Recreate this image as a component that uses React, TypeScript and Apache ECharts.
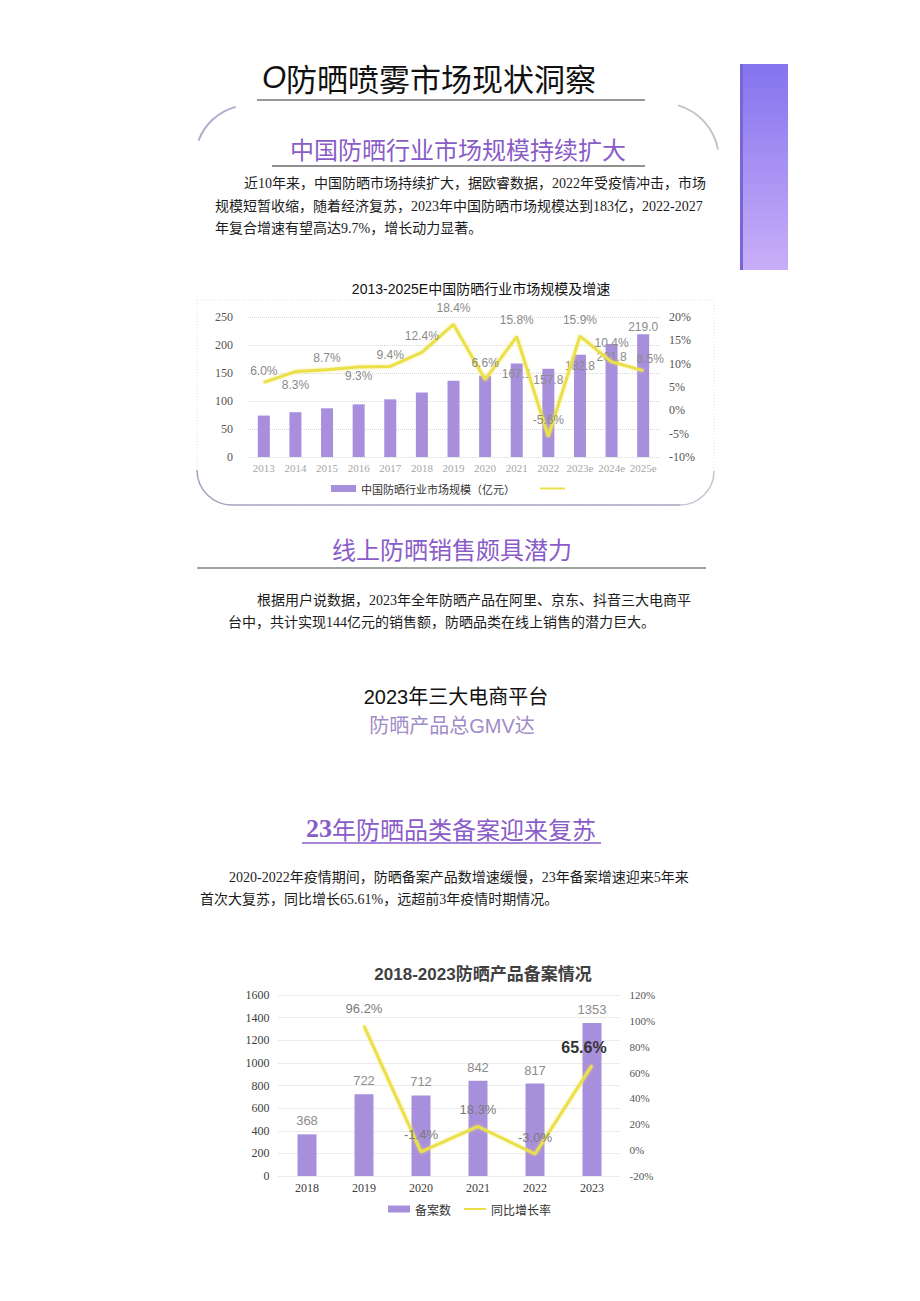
import React, { useEffect, useRef } from 'react';
import * as echarts from 'echarts';

// ---------- Chart 1 data ----------
const years1 = ['2013', '2014', '2015', '2016', '2017', '2018', '2019', '2020', '2021', '2022', '2023e', '2024e', '2025e'];
const marketSize = [74, 80, 87, 94, 103, 115, 136, 145, 167.1, 157.8, 182.8, 201.8, 219.0];
const growth1 = [6.0, 8.3, 8.7, 9.3, 9.4, 12.4, 18.4, 6.6, 15.8, -5.6, 15.9, 10.4, 8.5];
const sizeTicks = { min: 0, max: 250, interval: 50 };
const growthTicks1 = { min: -10, max: 20, interval: 5 };

// ---------- Chart 2 data ----------
const years2 = ['2018', '2019', '2020', '2021', '2022', '2023'];
const filings = [368, 722, 712, 842, 817, 1353];
const growth2: (number | null)[] = [null, 96.2, -1.4, 18.3, -3.0, 65.6];
const filingTicks = { min: 0, max: 1600, interval: 200 };
const growthTicks2 = { min: -20, max: 120, interval: 20 };

const SERIF = "'Liberation Serif', 'Noto Sans CJK SC', serif";
const SANS = "'Liberation Sans', 'Noto Sans CJK SC', sans-serif";
const CJK = "'Noto Sans CJK SC', 'Liberation Sans', sans-serif";

const PURPLE_BAR = '#a88fdc';
const YELLOW = '#ebe04a';
const HEAD = '#8a5cc8';
const BODY = '#1c1c1c';

function txt(x: number, y: number, text: string, o: any = {}) {
  return {
    type: 'text',
    x,
    y,
    style: {
      text,
      fill: o.fill || BODY,
      fontSize: o.fontSize || 14,
      fontFamily: o.fontFamily || SERIF,
      fontWeight: o.fontWeight || 'normal',
      align: o.align || 'left',
      verticalAlign: 'middle',
      rich: o.rich,
    },
  };
}

function buildOption() {
  const below1 = [1, 3];
  const line1Data = growth1.map((v, i) => ({
    value: v,
    label: {
      position: below1.includes(i) ? 'bottom' : 'top',
      distance: below1.includes(i) ? (i === 1 ? 7 : 3) : i === 0 || i === 2 || i === 4 || i === 12 ? 5 : i === 11 ? 12 : 10,
      offset: i === 12 ? [7, 0] : [0, 0],
    },
  }));
  const bar1Data = marketSize.map((v, i) => ({
    value: v,
    label: {
      show: i >= 8,
      position: i === 12 ? 'top' : 'insideTop',
      distance: i === 12 ? 1 : i === 11 ? 7 : 5,
    },
  }));
  const line2Data = growth2.map((v, i) =>
    v == null
      ? '-'
      : {
          value: v,
          label:
            i === 5
              ? { fontSize: 16, fontWeight: 'bold', color: '#333', fontFamily: SANS, distance: 9, offset: [-8, 0] }
              : {},
        }
  );

  const graphic: any[] = [
    // right decorative bar
    {
      type: 'rect',
      shape: { x: 740, y: 64, width: 48, height: 206 },
      style: {
        fill: new echarts.graphic.LinearGradient(0, 0, 0, 1, [
          { offset: 0, color: '#8474ee' },
          { offset: 1, color: '#c9aef8' },
        ]),
      },
    },
    { type: 'rect', shape: { x: 740, y: 64, width: 3, height: 206 }, style: { fill: '#7866d6' } },
    // main title
    txt(262, 77, '{i|O}防晒喷雾市场现状洞察', {
      fontSize: 31,
      fontFamily: CJK,
      fill: '#111',
      rich: { i: { fontStyle: 'italic', fontSize: 31, fontFamily: SANS, fill: '#111' } },
    }),
    { type: 'line', shape: { x1: 257, y1: 100, x2: 645, y2: 100 }, style: { stroke: '#333', lineWidth: 1 } },
    // decorative arcs
    {
      type: 'arc',
      shape: { cx: 250, cy: 160, r: 55, startAngle: 3.5, endAngle: 4.45, clockwise: true },
      style: { stroke: '#b3aacb', lineWidth: 2, fill: 'none' },
    },
    {
      type: 'arc',
      shape: { cx: 662, cy: 160, r: 57, startAngle: 5.0, endAngle: 6.1, clockwise: true },
      style: { stroke: '#c4c2cc', lineWidth: 2, fill: 'none' },
    },
    // heading 1
    txt(458, 148, '中国防晒行业市场规模持续扩大', { fontSize: 24, fontFamily: CJK, fill: HEAD, align: 'center' }),
    { type: 'line', shape: { x1: 272, y1: 166, x2: 645, y2: 166 }, style: { stroke: '#222', lineWidth: 1 } },
    txt(244, 183, '近10年来，中国防晒市场持续扩大，据欧睿数据，2022年受疫情冲击，市场'),
    txt(215, 206, '规模短暂收缩，随着经济复苏，2023年中国防晒市场规模达到183亿，2022-2027'),
    txt(215, 228, '年复合增速有望高达9.7%，增长动力显著。'),
    // chart 1 title
    txt(481, 289, '2013-2025E中国防晒行业市场规模及增速', { fontSize: 14, fontFamily: SANS, fill: '#111', align: 'center' }),
    // chart 1 frame
    {
      type: 'rect',
      shape: { x: 197, y: 300, width: 517, height: 205, r: [0, 0, 34, 35] },
      style: { stroke: '#e3dfea', lineWidth: 1, lineDash: [1, 2], fill: 'none' },
    },
    {
      type: 'arc',
      shape: { cx: 232, cy: 470, r: 35, startAngle: Math.PI / 2, endAngle: Math.PI, clockwise: true },
      style: { stroke: '#aaa1c0', lineWidth: 1.5, fill: 'none' },
    },
    {
      type: 'arc',
      shape: { cx: 680, cy: 471, r: 34, startAngle: 0, endAngle: Math.PI / 2, clockwise: true },
      style: { stroke: '#c8c4d2', lineWidth: 1.5, fill: 'none' },
    },
    { type: 'line', shape: { x1: 232, y1: 505, x2: 680, y2: 505 }, style: { stroke: '#aaa1c0', lineWidth: 1.5 } },
    // heading 2
    txt(452, 548, '线上防晒销售颇具潜力', { fontSize: 24, fontFamily: CJK, fill: HEAD, align: 'center' }),
    { type: 'line', shape: { x1: 197, y1: 568, x2: 706, y2: 568 }, style: { stroke: '#3a4a3a', lineWidth: 1 } },
    txt(257, 600, '根据用户说数据，2023年全年防晒产品在阿里、京东、抖音三大电商平'),
    txt(228, 622, '台中，共计实现144亿元的销售额，防晒品类在线上销售的潜力巨大。'),
    txt(456, 697, '2023年三大电商平台', { fontSize: 20, fontFamily: SANS, fill: '#111', align: 'center' }),
    txt(452, 726, '防晒产品总GMV达', { fontSize: 20, fontFamily: SANS, fill: '#a08cc8', align: 'center' }),
    // heading 3
    txt(451, 828, '{a|23}年防晒品类备案迎来复苏', {
      fontSize: 24,
      fontFamily: CJK,
      fill: HEAD,
      align: 'center',
      rich: { a: { fontSize: 26, fontWeight: 'bold', fontFamily: "'Liberation Serif', serif", fill: HEAD } },
    }),
    { type: 'line', shape: { x1: 302, y1: 843, x2: 601, y2: 843 }, style: { stroke: HEAD, lineWidth: 1.5 } },
    txt(229, 877, '2020-2022年疫情期间，防晒备案产品数增速缓慢，23年备案增速迎来5年来'),
    txt(200, 899, '首次大复苏，同比增长65.61%，远超前3年疫情时期情况。'),
    // chart 2 title
    txt(483, 974, '2018-2023防晒产品备案情况', { fontSize: 17, fontFamily: SANS, fill: '#404040', fontWeight: 'bold', align: 'center' }),
  ];

  const split = { show: true, lineStyle: { color: '#d6d6d6', type: 'dotted', width: 1 } };

  return {
    animation: false,
    backgroundColor: '#ffffff',
    graphic,
    legend: [
      {
        left: 326,
        top: 478,
        itemWidth: 25,
        itemHeight: 7,
        itemGap: 24,
        textStyle: { fontSize: 11, color: '#333', fontFamily: CJK },
        data: [
          { name: '中国防晒行业市场规模（亿元）', icon: 'rect' },
          { name: '增速', itemStyle: { opacity: 0 } },
        ],
        formatter: (n: string) => (n === '增速' ? '' : n),
      },
      {
        left: 383,
        top: 1198,
        itemWidth: 22,
        itemHeight: 7,
        itemGap: 12,
        textStyle: { fontSize: 12, color: '#333', fontFamily: CJK },
        data: [
          { name: '备案数', icon: 'rect' },
          { name: '同比增长率', itemStyle: { opacity: 0 } },
        ],
      },
    ],
    grid: [
      { left: 248, top: 317, width: 411, height: 140 },
      { left: 278.5, top: 995, width: 342, height: 181 },
    ],
    xAxis: [
      {
        type: 'category',
        gridIndex: 0,
        data: years1,
        axisLine: { show: false },
        axisTick: { show: false },
        axisLabel: { color: '#a6a6a6', fontSize: 11, fontFamily: SERIF, margin: 5, interval: 0 },
      },
      {
        type: 'category',
        gridIndex: 1,
        data: years2,
        axisLine: { show: false },
        axisTick: { show: false },
        axisLabel: { color: '#404040', fontSize: 12, fontFamily: SERIF, margin: 6 },
      },
    ],
    yAxis: [
      {
        type: 'value',
        gridIndex: 0,
        ...sizeTicks,
        axisLine: { show: false },
        axisTick: { show: false },
        splitLine: split,
        axisLabel: { color: '#555', fontSize: 12, fontFamily: SERIF, margin: 15 },
      },
      {
        type: 'value',
        gridIndex: 0,
        position: 'right',
        ...growthTicks1,
        axisLine: { show: false },
        axisTick: { show: false },
        splitLine: { show: false },
        axisLabel: { color: '#555', fontSize: 12, fontFamily: SERIF, margin: 10, formatter: '{value}%' },
      },
      {
        type: 'value',
        gridIndex: 1,
        ...filingTicks,
        axisLine: { show: false },
        axisTick: { show: false },
        splitLine: split,
        axisLabel: {
          color: '#404040',
          fontSize: 12,
          fontFamily: SERIF,
          margin: 9,
          formatter: (v: number) => String(v),
        },
      },
      {
        type: 'value',
        gridIndex: 1,
        position: 'right',
        ...growthTicks2,
        axisLine: { show: false },
        axisTick: { show: false },
        splitLine: { show: false },
        axisLabel: { color: '#555', fontSize: 11, fontFamily: SERIF, margin: 9, formatter: '{value}%' },
      },
    ],
    series: [
      {
        name: '中国防晒行业市场规模（亿元）',
        type: 'bar',
        xAxisIndex: 0,
        yAxisIndex: 0,
        barWidth: 12,
        itemStyle: { color: PURPLE_BAR },
        label: {
          show: false,
          color: '#8a8a8a',
          fontSize: 12,
          fontFamily: SANS,
          formatter: (p: any) => Number(p.value).toFixed(1),
        },
        data: bar1Data,
        z: 2,
      },
      {
        name: '增速',
        type: 'line',
        xAxisIndex: 0,
        yAxisIndex: 1,
        symbol: 'circle',
        symbolSize: 1,
        showSymbol: true,
        lineStyle: { color: YELLOW, width: 3, shadowColor: 'rgba(240,232,90,0.7)', shadowBlur: 3 },
        itemStyle: { color: YELLOW },
        label: {
          show: true,
          color: '#8a8a8a',
          fontSize: 12,
          fontFamily: SANS,
          formatter: (p: any) => Number(p.value).toFixed(1) + '%',
        },
        data: line1Data,
        z: 3,
      },
      {
        name: '备案数',
        type: 'bar',
        xAxisIndex: 1,
        yAxisIndex: 2,
        barWidth: 19,
        itemStyle: { color: PURPLE_BAR },
        label: { show: true, position: 'top', distance: 7, color: '#8c8c8c', fontSize: 13, fontFamily: SANS },
        data: filings,
        z: 2,
      },
      {
        name: '同比增长率',
        type: 'line',
        xAxisIndex: 1,
        yAxisIndex: 3,
        symbol: 'circle',
        symbolSize: 1,
        showSymbol: true,
        lineStyle: { color: YELLOW, width: 3, shadowColor: 'rgba(240,232,90,0.7)', shadowBlur: 3 },
        itemStyle: { color: YELLOW },
        label: {
          show: true,
          position: 'top',
          distance: 10,
          color: '#7a7a7a',
          fontSize: 13,
          fontFamily: SANS,
          formatter: (p: any) => Number(p.value).toFixed(1) + '%',
        },
        data: line2Data,
        z: 3,
      },
    ],
  };
}

export default function App() {
  const ref = useRef<HTMLDivElement>(null);
  useEffect(() => {
    if (!ref.current) return;
    const chart = echarts.init(ref.current, null, { renderer: 'svg' });
    chart.setOption(buildOption() as any);
    return () => chart.dispose();
  }, []);
  return (
    <div
      ref={ref}
      style={{ position: 'absolute', left: 0, top: 0, width: 920, height: 1301, background: '#fff' }}
    />
  );
}
